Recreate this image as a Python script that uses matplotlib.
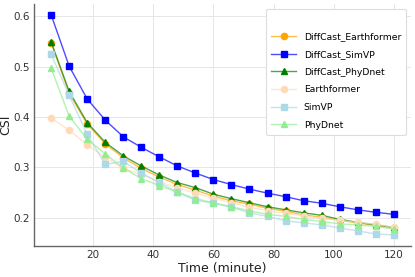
import numpy as np
import matplotlib
matplotlib.use("Agg")
import matplotlib.pyplot as plt

# lead times (minutes)
time_min = [6, 12, 18, 24, 30, 36, 42, 48, 54, 60, 66, 72, 78, 84, 90, 96, 102, 108, 114, 120]

diffcast_earthformer = [0.548, 0.447, 0.386, 0.347, 0.319, 0.298, 0.281, 0.266, 0.255, 0.243,
                        0.234, 0.227, 0.219, 0.213, 0.206, 0.201, 0.195, 0.190, 0.185, 0.180]
diffcast_simvp = [0.603, 0.501, 0.436, 0.394, 0.361, 0.340, 0.321, 0.303, 0.289, 0.276,
                  0.266, 0.257, 0.249, 0.242, 0.234, 0.229, 0.222, 0.216, 0.211, 0.207]
diffcast_phydnet = [0.549, 0.451, 0.389, 0.350, 0.323, 0.303, 0.285, 0.270, 0.260, 0.247,
                    0.238, 0.230, 0.222, 0.216, 0.210, 0.205, 0.197, 0.191, 0.186, 0.181]
earthformer = [0.398, 0.374, 0.345, 0.320, 0.298, 0.286, 0.272, 0.259, 0.249, 0.239,
               0.230, 0.221, 0.214, 0.209, 0.204, 0.199, 0.195, 0.191, 0.187, 0.181]
simvp = [0.525, 0.443, 0.366, 0.306, 0.312, 0.289, 0.270, 0.251, 0.235, 0.229,
         0.221, 0.210, 0.203, 0.194, 0.190, 0.186, 0.180, 0.174, 0.168, 0.166]
phydnet = [0.497, 0.402, 0.356, 0.327, 0.299, 0.278, 0.264, 0.251, 0.238, 0.230,
           0.222, 0.214, 0.207, 0.203, 0.197, 0.193, 0.188, 0.186, 0.183, 0.178]

series = [
    ("DiffCast_Earthformer", diffcast_earthformer, "orange", "o"),
    ("DiffCast_SimVP", diffcast_simvp, "blue", "s"),
    ("DiffCast_PhyDnet", diffcast_phydnet, "green", "^"),
    ("Earthformer", earthformer, "peachpuff", "o"),
    ("SimVP", simvp, "lightblue", "s"),
    ("PhyDnet", phydnet, "lightgreen", "^"),
]

fig = plt.figure(figsize=(4.15, 2.77), dpi=100)
ax = fig.add_subplot(111)
fig.subplots_adjust(left=0.082, right=0.99, top=0.986, bottom=0.112)

for label, vals, col, mk in series:
    rgba = matplotlib.colors.to_rgba(col, 0.7)
    ax.plot(time_min, vals, color=rgba, lw=1.0, marker=mk, markersize=4.5,
            markerfacecolor=col, markeredgecolor=col, label=label)

ax.grid(True, color='#e6e6e6', lw=0.7)
ax.set_axisbelow(True)
for s in ['top', 'right']:
    ax.spines[s].set_visible(False)
for s in ['left', 'bottom']:
    ax.spines[s].set_color('#666666')
    ax.spines[s].set_linewidth(1.0)
ax.tick_params(length=0, pad=3, labelsize=7.5, labelcolor='#333333')
ax.set_yticks([0.2, 0.3, 0.4, 0.5, 0.6])
ax.set_xticks([20, 40, 60, 80, 100, 120])
ax.set_xlabel('Time (minute)', fontsize=9, color='#222222', labelpad=1)
ax.set_ylabel('CSI', fontsize=9, color='#222222', labelpad=1)

leg = ax.legend(loc='upper right', fontsize=6.7, title=' ', title_fontsize=7,
                frameon=True, framealpha=1.0, edgecolor='#dddddd',
                labelspacing=0.93, handlelength=2.7, borderpad=0.55)
leg.get_frame().set_linewidth(0.8)

fig.savefig('out.png', dpi=100)
